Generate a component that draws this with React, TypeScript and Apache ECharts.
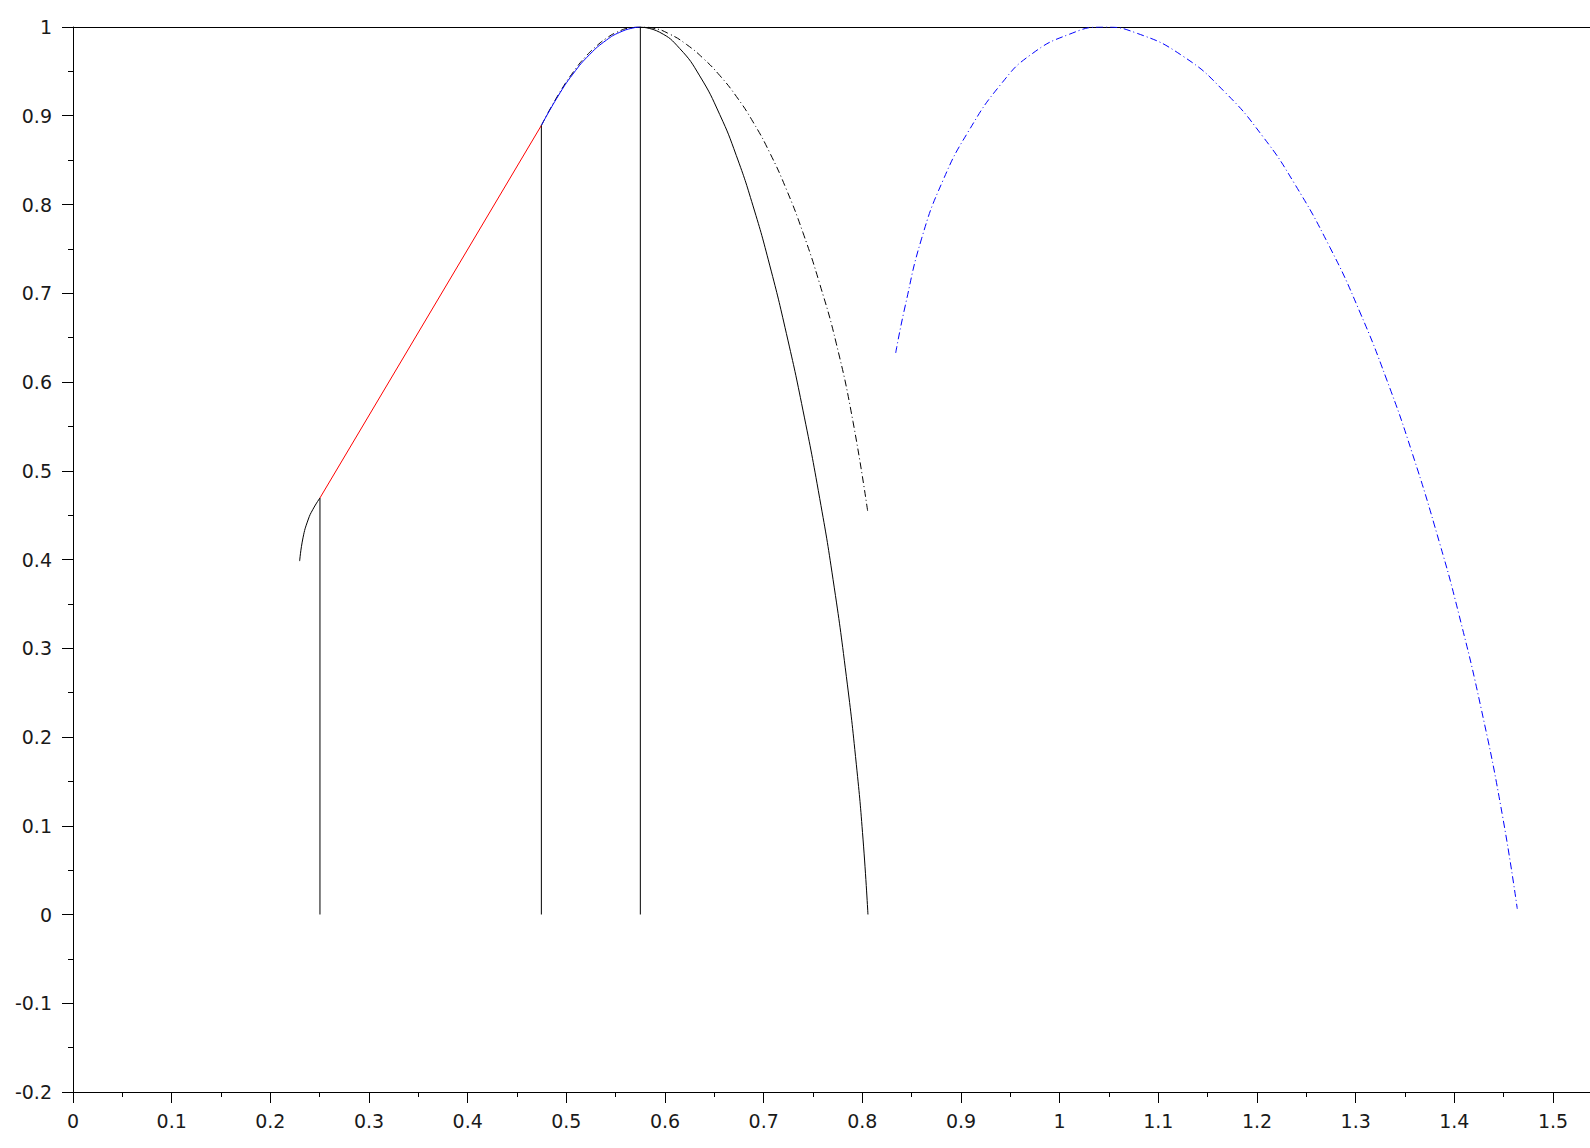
import React, { useEffect, useRef } from "react";
import * as echarts from "echarts";

// Tick settings
const xTickStep = 0.1;
const yTickStep = 0.1;
const xRange = [0, 1.5375];
const yRange = [-0.2, 1];

// Black solid trajectory: initial arc
const arcX = [0.2297, 0.2331, 0.2382, 0.2432, 0.2503];
const arcY = [0.3982, 0.4244, 0.4445, 0.4566, 0.4694];

// Red straight segment
const redX = [0.2503, 0.4747];
const redY = [0.4694, 0.8891];

// Blue solid cap up to the apex
const capX = [0.4747, 0.4916, 0.5067, 0.5237, 0.5406, 0.5541, 0.5693, 0.575];
const capY = [0.8891, 0.9221, 0.947, 0.9691, 0.9852, 0.994, 0.9993, 1.0];

// Black solid descent
const fallX = [0.575, 0.5946, 0.6149, 0.6352, 0.6555, 0.6723, 0.6892, 0.7061, 0.723, 0.7398, 0.7568, 0.7703, 0.7838, 0.7939, 0.8007, 0.8057];
const fallY = [1.0, 0.9941, 0.9758, 0.9449, 0.9013, 0.8551, 0.7985, 0.7317, 0.6548, 0.5683, 0.4688, 0.3777, 0.2683, 0.1693, 0.085, 0.0];

// Black dash-dot trajectory
const dashX = [0.4747, 0.4933, 0.5102, 0.5203, 0.5305, 0.5406, 0.5507, 0.5642, 0.576, 0.5878, 0.6047, 0.6217, 0.6385, 0.6554, 0.6723, 0.6892, 0.7061, 0.723, 0.7398, 0.7568, 0.7737, 0.7905, 0.8057];
const dashY = [0.8891, 0.9263, 0.954, 0.9675, 0.9785, 0.9873, 0.9938, 0.999, 1.0, 0.9988, 0.992, 0.9804, 0.9649, 0.9455, 0.9218, 0.8931, 0.8585, 0.8171, 0.7684, 0.7106, 0.643, 0.5556, 0.4522];

// Blue dash-dot trajectory
const blueDashX = [0.8338, 0.8432, 0.8602, 0.8816, 0.9072, 0.9413, 0.9711, 1.0095, 1.0437, 1.0777, 1.1247, 1.1673, 1.2057, 1.2378, 1.274, 1.3038, 1.3316, 1.3572, 1.3849, 1.4041, 1.4275, 1.4489, 1.4638];
const blueDashY = [0.6327, 0.6845, 0.7621, 0.8268, 0.8818, 0.9367, 0.9691, 0.9917, 1.0, 0.9932, 0.9673, 0.9268, 0.8769, 0.8239, 0.7515, 0.68, 0.6022, 0.5203, 0.4192, 0.3405, 0.2305, 0.1107, 0.0064];

// Vertical drop lines
const dropX = [0.2503, 0.4747, 0.575];
const dropTop = [0.4694, 0.8891, 1.0];

const zip = (xs: number[], ys: number[]) => xs.map((x, i) => [x, ys[i]]);

const fmt = (step: number) => (v: number) => {
  const r = Math.round(v / step) * step;
  if (Math.abs(v - r) > 1e-6) return "";
  return (Math.round(r * 10) / 10).toString();
};

export default function App() {
  const ref = useRef<HTMLDivElement>(null);
  useEffect(() => {
    if (!ref.current) return;
    const chart = echarts.init(ref.current, undefined, { renderer: "svg" });
    const black = "#000000";
    const lineSeries = (data: number[][], color: string, type: any, z = 2, smooth: any = 0.5) => ({
      type: "line",
      data,
      showSymbol: false,
      symbol: "none",
      smooth,
      lineStyle: { color, width: 1, type },
      z,
      silent: true,
    });
    const series: any[] = [
      lineSeries(zip(arcX, arcY), black, "solid"),
      lineSeries(zip(fallX, fallY), black, "solid"),
      lineSeries(zip(redX, redY), "#ff0000", "solid", 3, false),
      lineSeries(zip(capX, capY), "#0000ff", "solid", 3),
      lineSeries(zip(dashX, dashY), black, [7, 3, 1, 3], 2),
      lineSeries(zip(blueDashX, blueDashY), "#0000ff", [7, 3, 1, 3], 2),
      ...dropX.map((x, i) => ({
        type: "line",
        data: [[x, 0], [x, dropTop[i]]],
        showSymbol: false,
        symbol: "none",
        lineStyle: { color: black, width: 1 },
        z: 4,
        silent: true,
      })),
    ];
    const labelStyle = {
      fontFamily: "DejaVu Sans",
      fontSize: 19,
      color: "#1a1a1a",
    };
    chart.setOption({
      animation: false,
      backgroundColor: "#ffffff",
      grid: { left: 73, top: 27, right: 0, bottom: 56, containLabel: false },
      xAxis: [
        {
          type: "value",
          position: "bottom",
          min: xRange[0],
          max: xRange[1],
          interval: xTickStep,
          axisLine: { show: true, onZero: false, lineStyle: { color: black, width: 1 } },
          axisTick: { show: true, length: 11, lineStyle: { color: black, width: 1 } },
          minorTick: { show: true, splitNumber: 2, length: 5, lineStyle: { color: black, width: 1 } },
          splitLine: { show: false },
          minorSplitLine: { show: false },
          axisLabel: { ...labelStyle, margin: 19, formatter: fmt(xTickStep), showMaxLabel: false },
        },
        {
          type: "value",
          position: "top",
          min: xRange[0],
          max: xRange[1],
          interval: xTickStep,
          axisLine: { show: true, onZero: false, lineStyle: { color: black, width: 1 } },
          axisTick: { show: false },
          axisLabel: { show: false },
          splitLine: { show: false },
        },
      ],
      yAxis: {
        type: "value",
        min: yRange[0],
        max: yRange[1],
        interval: yTickStep,
        axisLine: { show: true, onZero: false, lineStyle: { color: black, width: 1 } },
        axisTick: { show: true, length: 11, lineStyle: { color: black, width: 1 } },
        minorTick: { show: true, splitNumber: 2, length: 5, lineStyle: { color: black, width: 1 } },
        splitLine: { show: false },
        minorSplitLine: { show: false },
        axisLabel: { ...labelStyle, margin: 21, formatter: fmt(yTickStep) },
      },
      series,
    });
    return () => chart.dispose();
  }, []);
  return (
    <div
      ref={ref}
      style={{ position: "fixed", left: 0, top: 0, width: 1590, height: 1148, background: "#fff" }}
    />
  );
}
